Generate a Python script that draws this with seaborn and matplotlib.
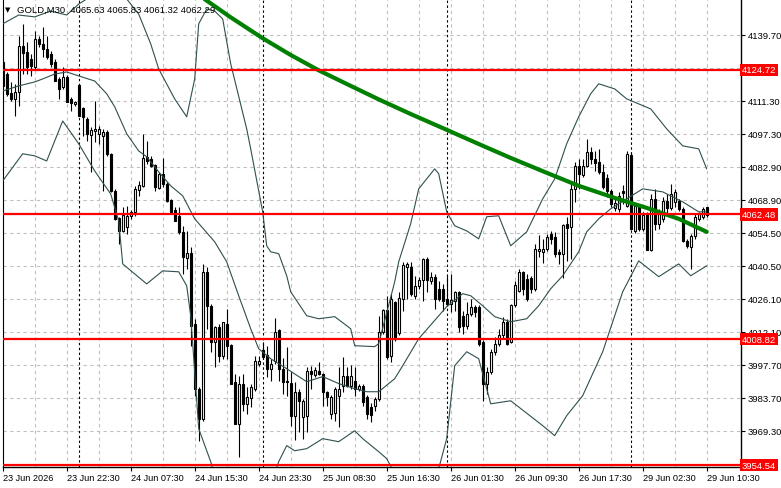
import matplotlib
matplotlib.use("Agg")
import matplotlib.pyplot as plt
import matplotlib.transforms as mtransforms
import seaborn as sns
import numpy as np
import pandas as pd

# ---------------- data (GOLD, M30) ----------------
opens = [4128.1, 4122.9, 4114.8, 4112.2, 4115.2, 4135.0, 4132.4, 4129.4, 4126.0, 4138.0,
         4135.9, 4133.7, 4131.6, 4128.1, 4120.8, 4117.4, 4121.7, 4112.2, 4110.0, 4118.2,
         4108.3, 4103.6, 4096.7, 4098.4, 4097.2, 4096.3, 4098.0, 4088.6, 4072.6, 4061.0,
         4055.4, 4057.2, 4061.9, 4063.6, 4073.1, 4074.8, 4087.3, 4086.4, 4083.8, 4073.9,
         4079.9, 4075.7, 4068.8, 4064.5, 4061.9, 4055.0, 4043.8, 4046.0, 4015.4, 3987.5,
         3974.6, 4037.8, 4023.2, 4007.7, 4014.2, 4001.7, 4015.4, 4006.4, 3990.5, 3972.4,
         3989.7, 3981.1, 3983.6, 3987.5, 3998.2, 4004.3, 4002.1, 3996.1, 3999.5, 4012.9,
         3996.1, 3990.9, 3990.1, 3975.9, 3986.2, 3975.5, 3975.9, 3995.2, 3993.5, 3995.2,
         3993.9, 3986.2, 3976.8, 3977.2, 3984.5, 3988.8, 3993.1, 3988.8, 3990.9, 3987.5,
         3988.8, 3984.1, 3979.8, 3980.2, 3983.2, 4012.0, 4021.5, 4001.7, 4024.9, 4011.6,
         4026.2, 4039.9, 4039.9, 4027.5, 4031.8, 4034.4, 4043.4, 4033.9, 4035.7, 4030.5,
         4030.5, 4026.2, 4024.1, 4025.3, 4029.2, 4018.9, 4014.6, 4019.8, 4022.8, 4022.8,
         4007.7, 3989.7, 3994.8, 4003.4, 4006.9, 4010.7, 4016.3, 4007.7, 4023.6, 4029.6,
         4037.8, 4034.8, 4035.2, 4030.5, 4046.8, 4046.4, 4047.7, 4054.2, 4052.9, 4046.4,
         4045.6, 4058.5, 4057.2, 4073.5, 4083.4, 4079.5, 4083.4, 4089.4, 4086.4, 4085.1,
         4080.8, 4078.2, 4072.6, 4065.3, 4064.9, 4072.6, 4066.2, 4088.1, 4055.4, 4066.2,
         4056.3, 4062.8, 4047.3, 4069.2, 4058.5, 4060.6, 4068.3, 4065.3, 4067.9, 4068.3,
         4064.9, 4051.2, 4048.6, 4053.3, 4060.6, 4061.5, 4065.63]
highs = [4129.4, 4123.8, 4119.5, 4118.6, 4139.3, 4144.5, 4136.7, 4131.6, 4141.4, 4139.3,
         4143.2, 4139.3, 4132.8, 4129.4, 4121.7, 4126.0, 4122.5, 4113.1, 4111.3, 4118.6,
         4108.8, 4104.5, 4100.2, 4111.3, 4100.6, 4099.3, 4098.9, 4089.0, 4073.5, 4061.5,
         4065.8, 4066.2, 4064.5, 4074.8, 4076.9, 4097.2, 4094.1, 4087.7, 4084.2, 4080.8,
         4086.8, 4076.5, 4069.2, 4065.8, 4065.8, 4057.6, 4055.4, 4048.6, 4017.6, 3988.4,
         4041.3, 4039.9, 4024.1, 4014.6, 4015.4, 4016.3, 4021.9, 4006.9, 3993.9, 3993.1,
         3993.9, 3988.4, 3989.7, 4001.7, 4001.7, 4007.7, 4006.0, 4000.4, 4018.0, 4013.3,
         4000.8, 4005.6, 3994.8, 3990.5, 3987.5, 3983.2, 3997.0, 3997.4, 3997.0, 3999.1,
         3994.4, 3986.6, 3984.9, 3988.4, 3997.0, 4001.3, 3997.0, 3997.8, 3997.0, 3989.7,
         3989.7, 3984.9, 3981.5, 3984.1, 4018.9, 4021.9, 4027.5, 4028.4, 4025.3, 4029.2,
         4042.1, 4042.1, 4042.1, 4036.1, 4035.7, 4043.8, 4044.3, 4037.8, 4036.9, 4033.9,
         4032.6, 4036.1, 4036.9, 4029.6, 4029.6, 4021.0, 4024.9, 4026.2, 4023.6, 4023.6,
         4008.6, 3997.0, 4004.7, 4009.9, 4013.3, 4018.5, 4017.6, 4024.1, 4033.9, 4039.1,
         4038.2, 4036.9, 4036.1, 4049.9, 4053.7, 4052.0, 4054.2, 4055.4, 4055.0, 4047.7,
         4058.5, 4061.5, 4075.7, 4085.1, 4086.4, 4086.4, 4095.0, 4091.6, 4089.8, 4090.7,
         4084.2, 4079.9, 4073.5, 4069.2, 4072.2, 4075.2, 4089.8, 4089.4, 4067.0, 4067.0,
         4063.6, 4063.6, 4071.4, 4073.5, 4064.9, 4070.1, 4071.4, 4075.7, 4073.5, 4069.2,
         4065.8, 4052.0, 4054.2, 4062.8, 4063.6, 4065.8, 4065.83]
lows = [4115.6, 4113.5, 4111.3, 4104.9, 4109.2, 4122.9, 4122.9, 4122.1, 4125.1, 4134.6,
        4130.3, 4129.4, 4126.0, 4119.9, 4112.2, 4116.5, 4110.9, 4107.0, 4109.2, 4104.9,
        4096.3, 4094.1, 4080.8, 4093.7, 4092.9, 4072.6, 4087.7, 4072.2, 4060.2, 4049.9,
        4055.0, 4054.2, 4060.6, 4061.9, 4070.5, 4074.4, 4084.2, 4083.0, 4072.6, 4073.5,
        4074.4, 4067.9, 4063.2, 4059.7, 4054.2, 4036.9, 4039.1, 4006.0, 3984.5, 3965.1,
        3973.7, 4013.3, 4003.4, 3997.0, 3999.1, 4000.4, 4000.4, 3989.7, 3972.4, 3958.3,
        3978.0, 3976.7, 3979.8, 3986.6, 3997.4, 4000.4, 3992.7, 3990.9, 3998.2, 3990.9,
        3985.4, 3984.5, 3971.6, 3965.6, 3969.0, 3966.0, 3969.0, 3987.5, 3992.7, 3993.5,
        3980.2, 3980.2, 3974.6, 3973.7, 3971.2, 3986.2, 3988.4, 3987.5, 3984.5, 3986.6,
        3980.2, 3974.6, 3973.3, 3978.0, 3982.3, 4011.2, 4000.4, 3999.1, 4008.1, 4010.7,
        4021.0, 4026.2, 4027.5, 4026.2, 4030.5, 4025.3, 4029.2, 4032.6, 4021.9, 4025.3,
        4021.0, 4023.2, 4020.6, 4021.0, 4012.0, 4011.2, 4013.3, 4018.9, 4018.5, 4006.0,
        3982.3, 3985.4, 3993.9, 4002.1, 4006.0, 4009.0, 4006.4, 4007.3, 4022.8, 4029.2,
        4027.9, 4025.3, 4028.8, 4029.6, 4044.3, 4041.7, 4046.8, 4049.9, 4044.3, 4041.2,
        4035.2, 4042.5, 4043.4, 4067.9, 4073.5, 4078.7, 4083.0, 4084.2, 4081.2, 4079.9,
        4073.5, 4070.1, 4065.8, 4064.0, 4063.6, 4067.0, 4065.8, 4056.3, 4054.6, 4055.4,
        4055.4, 4047.3, 4046.8, 4055.9, 4056.3, 4059.3, 4062.3, 4064.5, 4065.8, 4064.0,
        4050.7, 4048.1, 4039.1, 4052.0, 4059.7, 4060.6, 4061.32]
closes = [4117.8, 4114.4, 4112.2, 4115.2, 4135.0, 4132.0, 4126.0, 4126.4, 4138.0, 4135.9,
          4133.7, 4130.3, 4127.3, 4119.9, 4116.5, 4121.7, 4110.9, 4110.5, 4110.9, 4104.9,
          4104.5, 4097.2, 4098.9, 4099.3, 4099.3, 4098.0, 4088.6, 4072.6, 4060.6, 4055.4,
          4062.3, 4061.9, 4063.6, 4073.5, 4075.2, 4086.8, 4085.5, 4083.4, 4074.4, 4079.9,
          4075.7, 4068.3, 4063.6, 4059.7, 4055.0, 4044.3, 4046.0, 4014.6, 3987.5, 3974.6,
          4037.8, 4023.2, 4007.7, 4014.2, 4001.7, 4016.3, 4006.0, 3989.7, 3972.4, 3989.7,
          3981.1, 3984.1, 3988.4, 3999.5, 3999.5, 4001.3, 3996.1, 3998.2, 4012.0, 3996.1,
          3990.5, 3990.5, 3975.9, 3986.2, 3982.3, 3982.3, 3995.2, 3993.9, 3995.7, 3993.9,
          3986.2, 3984.1, 3984.1, 3987.5, 3987.5, 3993.1, 3988.8, 3993.1, 3987.5, 3988.8,
          3981.9, 3976.8, 3976.3, 3983.2, 4012.0, 4021.5, 4001.3, 4026.2, 4009.0, 4026.6,
          4040.8, 4041.2, 4028.4, 4031.8, 4034.4, 4043.4, 4034.4, 4035.7, 4026.2, 4026.2,
          4025.3, 4024.1, 4025.8, 4029.2, 4014.2, 4014.6, 4019.8, 4022.8, 4020.6, 4006.9,
          3989.7, 3994.8, 4003.4, 4006.9, 4010.7, 4016.3, 4006.9, 4023.6, 4032.2, 4037.8,
          4030.5, 4026.2, 4030.5, 4047.7, 4047.7, 4047.7, 4052.9, 4052.0, 4045.6, 4045.6,
          4058.0, 4056.7, 4073.5, 4083.4, 4079.9, 4083.4, 4089.4, 4086.4, 4084.7, 4080.8,
          4074.4, 4072.6, 4067.0, 4067.5, 4070.5, 4071.8, 4088.6, 4056.3, 4066.2, 4056.3,
          4062.3, 4047.3, 4069.2, 4058.5, 4063.2, 4068.3, 4065.3, 4071.4, 4072.2, 4064.9,
          4051.2, 4049.0, 4053.3, 4061.5, 4062.8, 4064.9, 4062.29]

# Bollinger bands : bar index -> price
upper_bars = [0, 4, 8, 12, 16, 19, 23, 27, 31, 34, 37, 39, 43, 46, 48, 49, 51, 53, 55, 57,
              61, 62, 65, 66, 67, 69, 71, 72, 76, 79, 83, 87, 88, 93, 94, 98, 99, 102, 104, 108,
              109, 111, 113, 116, 119, 121, 124, 127, 131, 135, 138, 141, 144, 147, 149, 153, 156,
              162, 166, 170, 174, 176]
upper_vals = [4144.5, 4148.3, 4147.5, 4150.0, 4148.3, 4153.0, 4157.4, 4156.1, 4155.2, 4148.7,
              4135.9, 4125.1, 4112.2, 4104.5, 4120.8, 4144.5, 4150.9, 4150.0, 4146.6, 4127.3,
              4099.3, 4090.7, 4063.6, 4049.0, 4046.4, 4045.6, 4036.1, 4029.2, 4018.9, 4017.6,
              4018.5, 4013.3, 4006.0, 4005.6, 4006.9, 4033.5, 4042.1, 4058.5, 4073.5, 4082.1,
              4080.0, 4063.6, 4057.6, 4055.4, 4052.0, 4061.5, 4061.9, 4049.0, 4055.0, 4069.2,
              4077.8, 4092.9, 4104.5, 4114.4, 4118.7, 4116.5, 4112.2, 4107.9, 4099.3, 4092.0,
              4090.7, 4082.1]
middle_bars = [0, 4, 8, 10, 13, 16, 19, 23, 26, 28, 31, 34, 36, 39, 42, 45, 48, 53, 56, 59,
               62, 64, 67, 71, 76, 80, 84, 88, 91, 94, 98, 100, 104, 111, 115, 117, 120, 123,
               127, 131, 134, 137, 140, 144, 146, 149, 152, 156, 160, 165, 170, 174, 176]
middle_vals = [4115.6, 4117.8, 4119.5, 4120.8, 4122.9, 4123.8, 4122.1, 4119.9, 4114.4, 4108.8,
               4097.2, 4089.8, 4087.3, 4080.8, 4074.8, 4070.5, 4060.6, 4050.7, 4042.1, 4027.5,
               4013.3, 4004.7, 4000.4, 3996.1, 3990.5, 3992.7, 3989.7, 3987.5, 3986.2, 3986.2,
               3991.8, 3997.4, 4009.0, 4022.8, 4028.4, 4027.5, 4023.2, 4018.5, 4016.3, 4017.6,
               4023.2, 4030.5, 4036.1, 4046.4, 4055.0, 4060.6, 4064.9, 4069.2, 4073.5, 4072.2,
               4067.9, 4063.6, 4063.6]
lower_bars = [0, 5, 8, 11, 13, 15, 19, 23, 27, 29, 30, 36, 40, 44, 46, 47, 49, 52, 54, 66,
              69, 71, 73, 76, 80, 84, 88, 90, 94, 96, 98, 107, 111, 113, 116, 119, 122, 127,
              135, 138, 141, 145, 150, 155, 159, 164, 169, 172, 176]
lower_vals = [4076.9, 4088.6, 4087.7, 4085.5, 4094.1, 4102.7, 4092.9, 4081.2, 4071.3, 4059.7,
              4041.2, 4032.6, 4038.2, 4037.8, 4031.8, 4018.9, 3970.3, 3956.1, 3944.5, 3940.2,
              3956.1, 3963.0, 3960.8, 3961.7, 3966.0, 3964.7, 3969.4, 3966.0, 3960.4, 3957.4,
              3951.0, 3940.2, 3966.0, 3997.4, 4003.4, 4000.4, 3981.0, 3982.3, 3971.6, 3967.3,
              3975.9, 3984.5, 4003.4, 4029.2, 4042.5, 4035.7, 4041.2, 4036.1, 4040.4]
# slow moving average (green)
ma_bars = [49, 57, 65, 72, 79, 87, 94, 102, 111, 119, 127, 136, 144, 153, 161, 169, 176]
ma_vals = [4156.9, 4147.3, 4138.3, 4131.1, 4124.5, 4117.8, 4112.0, 4105.7, 4098.9, 4092.8,
           4086.8, 4080.4, 4074.8, 4069.6, 4065.3, 4060.6, 4055.0]

levels = [4124.72, 4062.48, 4008.82, 3954.54]
level_labels = ["4124.72", "4062.48", "4008.82", "3954.54"]
price_ticks = [4139.70, 4111.30, 4097.30, 4082.90, 4068.90, 4054.50, 4040.50, 4026.10,
               4012.10, 3997.70, 3983.70, 3969.30]
price_tick_labels = ["4139.70", "4111.30", "4097.30", "4082.90", "4068.90", "4054.50",
                     "4040.50", "4026.10", "4012.10", "3997.70", "3983.70", "3969.30"]
grid_prices = [4139.70, 4125.50, 4111.30, 4097.30, 4082.90, 4068.90, 4054.50, 4040.50,
               4026.10, 4012.10, 3997.70, 3983.70, 3969.30]
time_labels = ["23 Jun 2026", "23 Jun 22:30", "24 Jun 07:30", "24 Jun 15:30", "24 Jun 23:30",
               "25 Jun 08:30", "25 Jun 16:30", "26 Jun 01:30", "26 Jun 09:30", "26 Jun 17:30",
               "29 Jun 02:30", "29 Jun 10:30"]
time_label_bars = [0, 16, 32, 48, 64, 80, 96, 112, 128, 144, 160, 176]
day_start_bars = [19, 65, 111, 157]
title = "GOLD,M30  4065.63 4065.83 4061.32 4062.29"

# ---------------- figure ----------------
sns.set_theme(style="white")
plt.rcParams['font.family'] = ['Liberation Sans', 'DejaVu Sans']

W, H = 781, 489
fig = plt.figure(figsize=(W / 100, H / 100), dpi=100)
fig.patch.set_facecolor("white")
ax = fig.add_axes([2.5 / W, (H - 467.5) / H, (740.5 - 2.5) / W, 467.5 / H])
ax.set_facecolor("white")
ax.set_xlim(-0.05, 184.45)
ax.set_ylim(3954.02, 4155.19)

# grid
for gp in grid_prices:
    ax.axhline(gp, color="#c0c0c0", lw=0.8, ls=(0, (3, 3)), zorder=0)
for gb in range(8, 184, 8):
    ax.axvline(gb, color="#c0c0c0", lw=0.8, ls=(0, (3, 3)), zorder=0)
for db in day_start_bars:
    ax.axvline(db, color="black", lw=0.8, ls=(0, (2.2, 2.2)), zorder=1)

# candles
df = pd.DataFrame({"open": opens, "high": highs, "low": lows, "close": closes})
df["bar"] = np.arange(len(df))
up = df["close"] >= df["open"]
ax.vlines(df["bar"], df["low"], df["high"], color="black", lw=0.8, zorder=3)
body_lo = np.minimum(df["open"], df["close"])
body_h = np.maximum(np.abs(df["close"] - df["open"]), 0.35)
ax.bar(df["bar"], body_h, bottom=body_lo, width=0.52,
       color=np.where(up, "white", "black"), edgecolor="black", linewidth=0.8, zorder=4)

# bands and MA
band_col = "#2f4f4f"
sns.lineplot(x=upper_bars, y=upper_vals, ax=ax, color=band_col, lw=0.8, zorder=5, estimator=None, sort=False)
sns.lineplot(x=middle_bars, y=middle_vals, ax=ax, color=band_col, lw=0.8, zorder=5, estimator=None, sort=False)
sns.lineplot(x=lower_bars, y=lower_vals, ax=ax, color=band_col, lw=0.8, zorder=5, estimator=None, sort=False)
sns.lineplot(x=ma_bars, y=ma_vals, ax=ax, color="#008000", lw=3.0, zorder=6, estimator=None, sort=False)

# horizontal levels
for lv in levels:
    ax.axhline(lv, color="#ff0000", lw=1.6, zorder=7)

# axes styling
ax.spines["top"].set_visible(False)
for s in ["left", "right", "bottom"]:
    ax.spines[s].set_visible(True)
    ax.spines[s].set_color("black")
    ax.spines[s].set_linewidth(1.0)
ax.spines["left"].set_linewidth(0.8)

ax.yaxis.tick_right()
ax.set_yticks(price_ticks)
ax.set_yticklabels(price_tick_labels)
ax.tick_params(axis="y", which="both", right=True, left=False, length=3, width=0.8,
               pad=2, labelsize=6.8, colors="black")
ax.set_xticks(time_label_bars)
ax.set_xticklabels(time_labels, ha="left")
ax.tick_params(axis="x", which="both", bottom=True, length=3, width=0.8, pad=2,
               labelsize=6.6, colors="black")
ax.set_xlabel("")
ax.set_ylabel("")
if ax.get_legend() is not None:
    ax.get_legend().remove()

# red level labels on the price axis
trans = mtransforms.blended_transform_factory(ax.transAxes, ax.transData)
for lv, lab in zip(levels, level_labels):
    ax.text(1.0015, lv, lab, transform=trans, ha="left", va="center", fontsize=6.8,
            color="white", zorder=10, clip_on=False,
            bbox=dict(boxstyle="square,pad=0.18", fc="#ff0000", ec="none"))

# title
fig.text(5 / W, 1 - 10 / H, "\u25bc", fontsize=5, ha="left", va="center", color="black",
         family=["DejaVu Sans"])
fig.text(17 / W, 1 - 10 / H, title, fontsize=6.8, ha="left", va="center", color="black")

fig.savefig("out.png", dpi=100, facecolor="white")
